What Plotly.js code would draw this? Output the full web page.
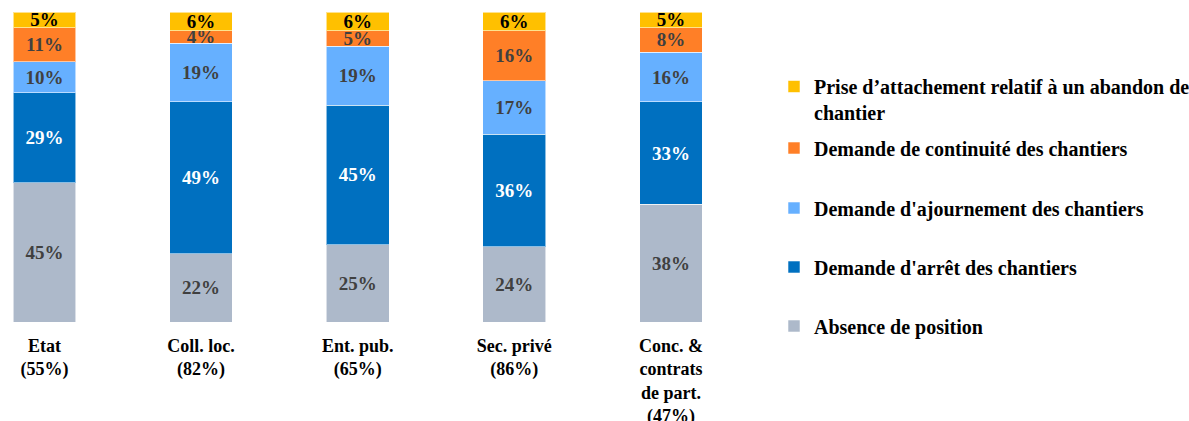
<!DOCTYPE html>
<html>
<head>
<meta charset="utf-8">
<script src="https://cdn.plot.ly/plotly-3.0.1.min.js"></script>
<style>html,body{margin:0;padding:0;background:#fff;}#chart{width:1189px;height:421px;}</style>
</head>
<body>
<div id="chart"></div>
<script>
const categories = ["Etat<br>(55%)", "Coll. loc.<br>(82%)", "Ent. pub.<br>(65%)", "Sec. privé<br>(86%)", "Conc. &amp;<br>contrats<br>de part.<br>(47%)"];
const absence = [45, 22, 25, 24, 38];
const arret = [29, 49, 45, 36, 33];
const ajournement = [10, 19, 19, 17, 16];
const continuite = [11, 4, 5, 16, 8];
const prise = [5, 6, 6, 6, 5];
const seriesNames = [
  "Absence de position",
  "Demande d'arrêt des chantiers",
  "Demande d'ajournement des chantiers",
  "Demande de continuité des chantiers",
  "Prise d’attachement relatif à un abandon de<br>chantier"
];

const seriesData = [absence, arret, ajournement, continuite, prise];
const colors = ["#ADB9CA", "#0070C0", "#66B0FF", "#FF7F27", "#FFC000"];
const textColors = ["#404040", "#FFFFFF", "#404040", "#404040", "#000000"];
const legendIds = ["legend5", "legend4", "legend3", "legend2", "legend"];
const legendY = [326, 267, 208, 148, 99.5];

const FONT = "Liberation Serif";

const traces = seriesData.map((vals, i) => ({
  type: "bar",
  name: seriesNames[i],
  x: categories,
  y: vals,
  text: vals.map(v => v + "%"),
  textposition: "inside",
  insidetextanchor: "middle",
  textangle: 0,
  constraintext: "none",
  cliponaxis: false,
  textfont: {family: FONT, size: 19, color: textColors[i], weight: "bold"},
  marker: {color: colors[i], line: {color: "rgba(255,255,255,0.55)", width: 1}},
  legend: legendIds[i],
  hoverinfo: "skip"
}));

const layout = {
  width: 1189,
  height: 421,
  margin: {l: 0, r: 429, t: 12, b: 99},
  paper_bgcolor: "#ffffff",
  plot_bgcolor: "#ffffff",
  barmode: "stack",
  barnorm: "percent",
  bargap: 0.6,
  xaxis: {
    type: "category",
    range: [-0.284, 4.569],
    showgrid: false,
    zeroline: false,
    showline: false,
    ticks: "",
    ticklabelstandoff: 11,
    tickfont: {family: FONT, size: 18, color: "#000000", weight: "bold"}
  },
  yaxis: {
    range: [0, 100.001],
    showgrid: false,
    zeroline: false,
    showline: false,
    showticklabels: false,
    ticks: ""
  },
  showlegend: true
};

legendIds.forEach((id, i) => {
  layout[id] = {
    xref: "container",
    yref: "container",
    x: 774 / 1189,
    y: 1 - legendY[i] / 421,
    xanchor: "left",
    yanchor: "middle",
    valign: "top",
    bgcolor: "rgba(0,0,0,0)",
    borderwidth: 0,
    itemwidth: 30,
    font: {family: FONT, size: 20, color: "#000000", weight: "bold"}
  };
});

Plotly.newPlot("chart", traces, layout, {displayModeBar: false, staticPlot: true});
</script>
</body>
</html>
